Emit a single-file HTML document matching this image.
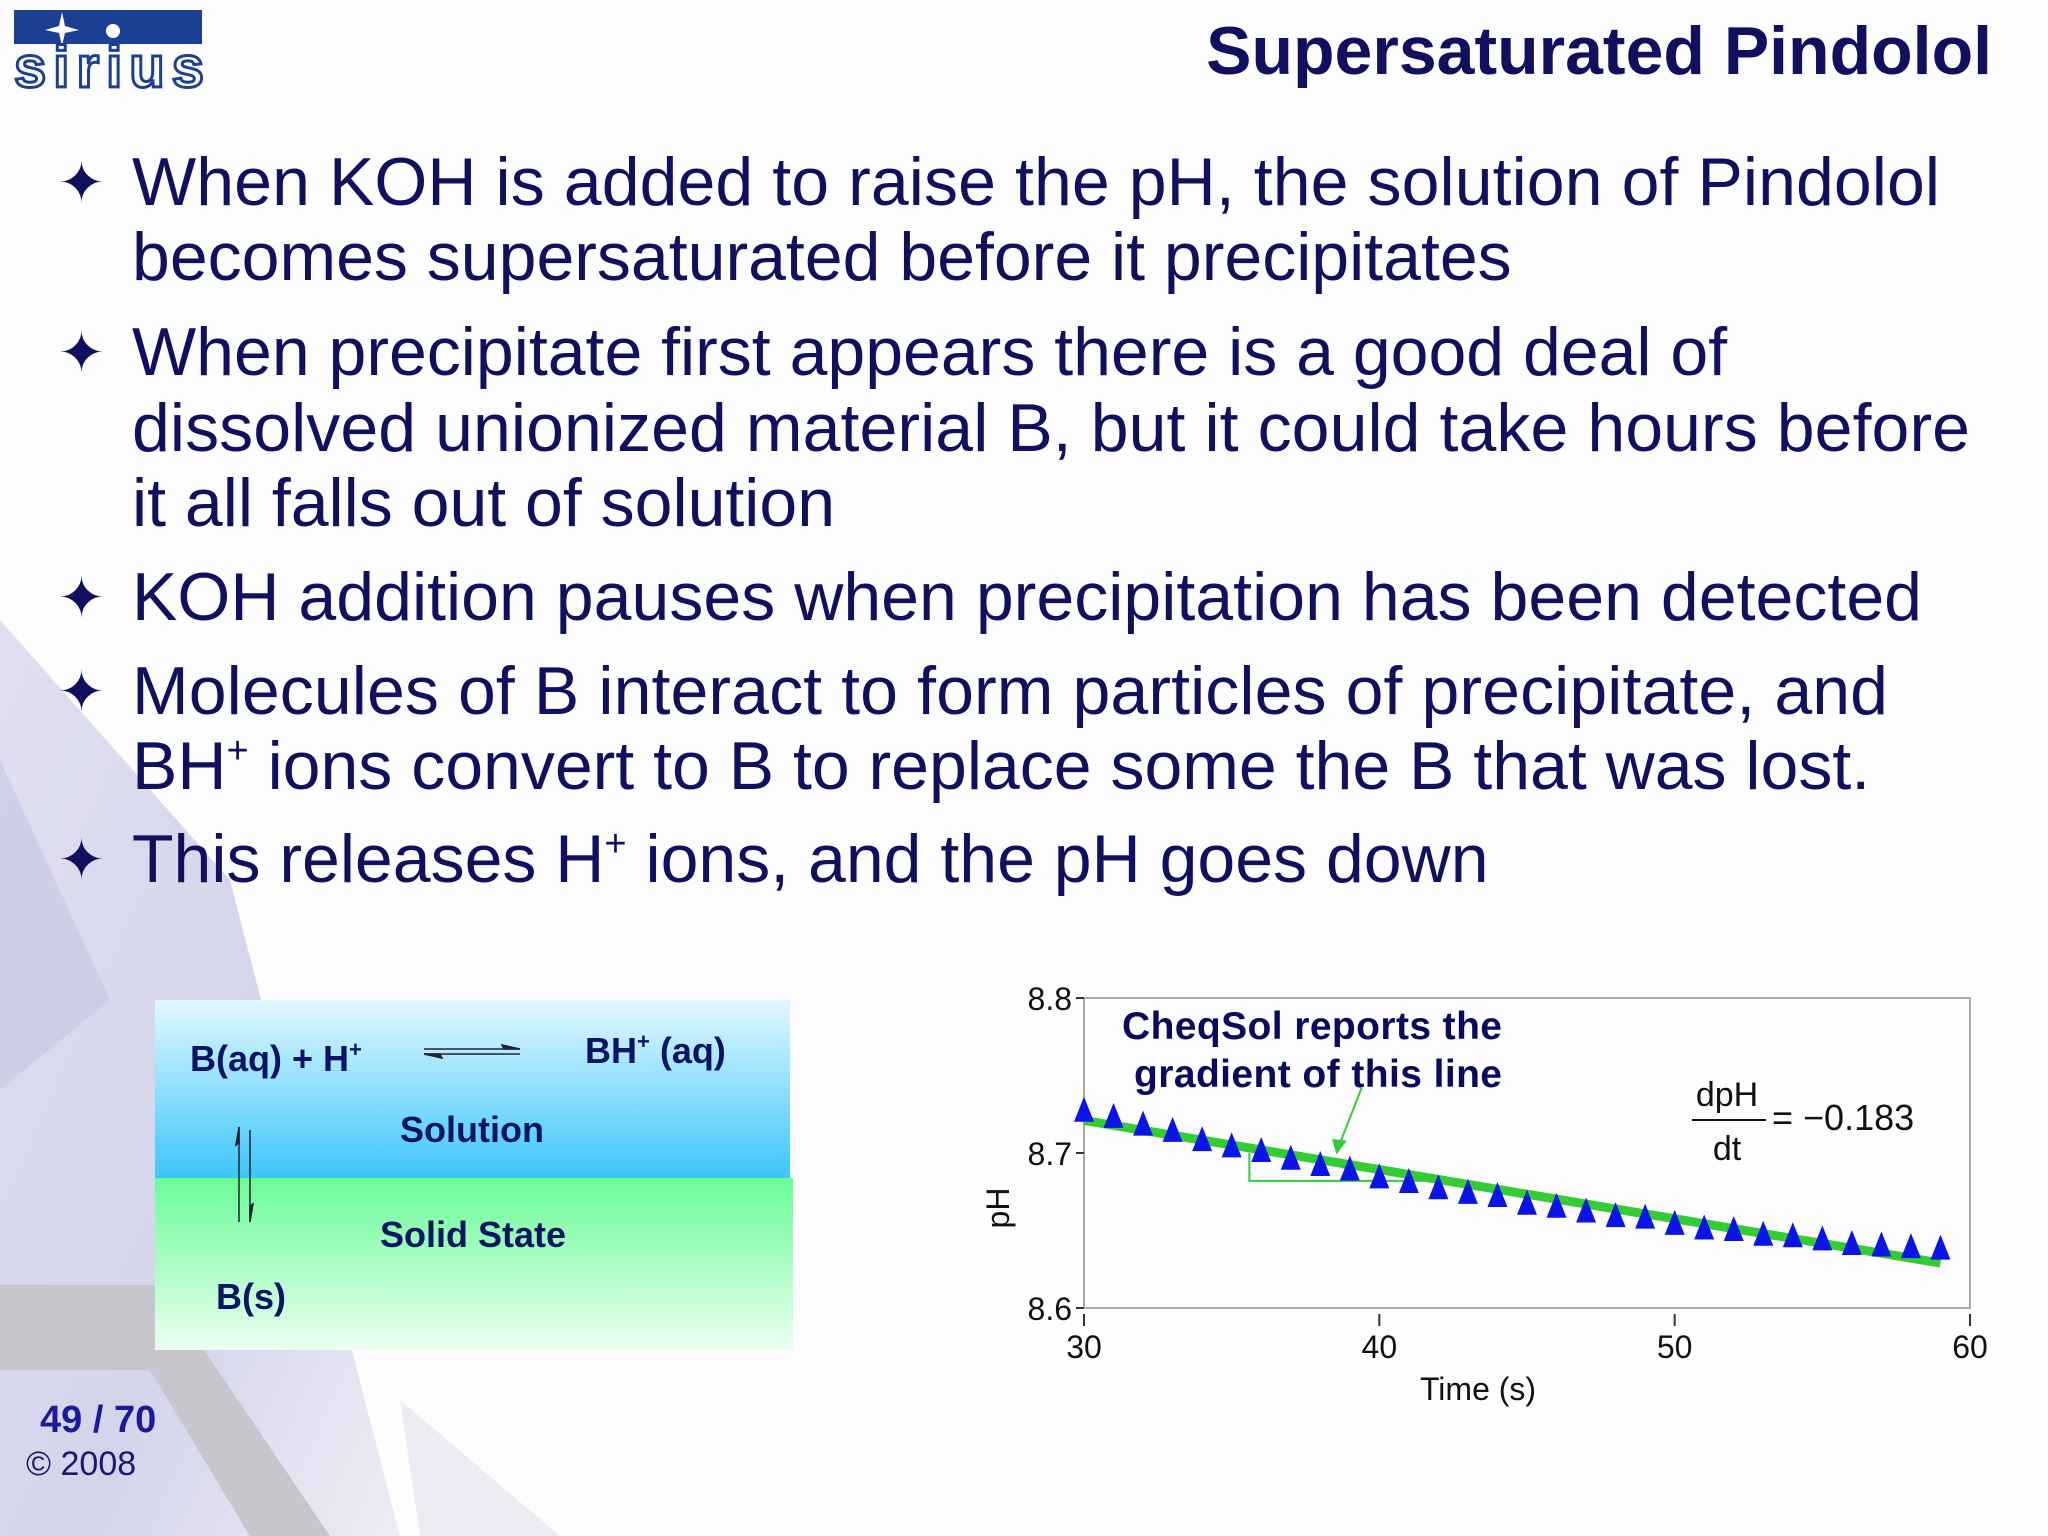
<!DOCTYPE html>
<html><head><meta charset="utf-8"><style>
html,body{margin:0;padding:0;background:#fff;}
svg{display:block;font-family:"Liberation Sans",sans-serif;}
</style></head><body>
<svg width="2048" height="1536" viewBox="0 0 2048 1536">
<defs>
<linearGradient id="lav" x1="0" y1="0" x2="1" y2="1"><stop offset="0" stop-color="#d6d6ec"/><stop offset="0.6" stop-color="#c6c6e4"/><stop offset="1" stop-color="#e8e8f4"/></linearGradient>
<linearGradient id="sol" x1="0" y1="0" x2="0" y2="1"><stop offset="0" stop-color="#e2f8ff"/><stop offset="1" stop-color="#3cc6fa"/></linearGradient>
<linearGradient id="solid" x1="0" y1="0" x2="0" y2="1"><stop offset="0" stop-color="#6cfb98"/><stop offset="1" stop-color="#eafff0"/></linearGradient>
</defs>
<g>
<rect width="2048" height="1536" fill="#fdfdfe"/>
<polygon points="0,620 230,880 400,1536 0,1536" fill="url(#lav)" opacity="0.75"/>
<polygon points="0,760 110,1000 0,1090" fill="#c4c4e2" opacity="0.6"/>
<polygon points="0,1285 160,1285 330,1536 250,1536 150,1370 0,1370" fill="#c6c6cc"/>
<polygon points="400,1400 560,1536 420,1536" fill="#ececf4"/>
</g>
<g>
<rect x="14" y="10" width="188" height="34" fill="#1a3f93"/>
<path d="M62,12 L65,26 L79,30 L65,33 L62,46 L59,33 L45,30 L59,26Z" fill="#fff"/>
<circle cx="113" cy="31" r="7" fill="#fff"/>
<text x="108" y="87" font-size="58" font-weight="bold" text-anchor="middle" fill="#fff" stroke="#1a3f93" stroke-width="3" letter-spacing="-2" textLength="188">sirius</text>
</g>
<text x="1992" y="74" font-size="68" font-weight="bold" fill="#10105e" text-anchor="end">Supersaturated Pindolol</text>
<g font-size="68" fill="#10105e">
<g fill="#10105e">
<text x="58" y="202" font-size="56">✦</text>
<text x="58" y="372" font-size="56">✦</text>
<text x="58" y="617" font-size="56">✦</text>
<text x="58" y="711" font-size="56">✦</text>
<text x="58" y="879" font-size="56">✦</text>
</g>
<text x="132" y="205" textLength="1808">When KOH is added to raise the pH, the solution of Pindolol</text>
<text x="132" y="280">becomes supersaturated before it precipitates</text>
<text x="132" y="375">When precipitate first appears there is a good deal of</text>
<text x="132" y="451" textLength="1838">dissolved unionized material B, but it could take hours before</text>
<text x="132" y="526">it all falls out of solution</text>
<text x="132" y="620" textLength="1790">KOH addition pauses when precipitation has been detected</text>
<text x="132" y="714" textLength="1756">Molecules of B interact to form particles of precipitate, and</text>
<text x="132" y="789">BH<tspan font-size="38" dy="-26">+</tspan><tspan dy="26"> ions convert to B to replace some the B that was lost.</tspan></text>
<text x="132" y="882">This releases H<tspan font-size="38" dy="-26">+</tspan><tspan dy="26"> ions, and the pH goes down</tspan></text>
</g>
<g>
<rect x="155" y="1000" width="635" height="178" fill="url(#sol)"/>
<rect x="155" y="1178" width="638" height="172" fill="url(#solid)"/>
<g font-weight="bold" fill="#0a1464" font-size="36">
<text x="190" y="1071">B(aq) + H<tspan font-size="22" dy="-14">+</tspan></text>
<text x="585" y="1063">BH<tspan font-size="22" dy="-14">+</tspan><tspan dy="14"> (aq)</tspan></text>
<text x="400" y="1142">Solution</text>
<text x="380" y="1247">Solid State</text>
<text x="216" y="1309">B(s)</text>
</g>
<g stroke="#223" stroke-width="1.5" fill="#223">
<line x1="424" y1="1049" x2="520" y2="1049"/><path d="M520,1049 L502,1045 L504,1049Z"/>
<line x1="424" y1="1054" x2="520" y2="1054"/><path d="M424,1054 L442,1058 L440,1054Z"/>
<line x1="239" y1="1127" x2="239" y2="1222"/><path d="M239,1127 L236,1145 L239,1143Z"/>
<line x1="250" y1="1130" x2="250" y2="1222"/><path d="M250,1222 L253,1204 L250,1206Z"/>
</g>
</g>
<g id="chart"></g>
<text x="40" y="1432" font-size="38" font-weight="bold" fill="#1b1b9a">49 / 70</text>
<text x="26" y="1475" font-size="34" fill="#1a1a70">© 2008</text>
</svg>
<script>
const times=[30,31,32,33,34,35,36,37,38,39,40,41,42,43,44,45,46,47,48,49,50,51,52,53,54,55,56,57,58,59];
const phValues=[8.726,8.722,8.717,8.713,8.707,8.703,8.700,8.695,8.691,8.688,8.683,8.680,8.676,8.673,8.671,8.666,8.664,8.661,8.658,8.657,8.653,8.650,8.649,8.646,8.645,8.643,8.640,8.639,8.638,8.637];
const fitLine=[[30,8.721],[59,8.629]];
const xTicks=[30,40,50,60];
const yTicks=[8.6,8.7,8.8];
const yTickLabels=["8.6","8.7","8.8"];
const NS="http://www.w3.org/2000/svg";
const L=1084,R=1970,T=998,B=1308;
const sx=t=>L+(t-30)/30*(R-L);
const sy=v=>B-(v-8.6)/0.2*(B-T);
const g=document.getElementById('chart');
function mk(tag,attrs,parent){const e=document.createElementNS(NS,tag);for(const k in attrs)e.setAttribute(k,attrs[k]);(parent||g).appendChild(e);return e;}
const frame=mk('rect',{x:L,y:T,width:R-L,height:B-T,fill:'#fdfdff',stroke:'#aaa','stroke-width':2});


yTicks.forEach((v,i)=>{
 const tk=mk('line',{x1:L-8,x2:L,y1:sy(v),y2:sy(v),stroke:'#333','stroke-width':2});
 
 
 const t=mk('text',{x:L-12,y:sy(v)+12,'font-size':32,'text-anchor':'end',fill:'#111'});
 t.textContent=yTickLabels[i];
 
 
});
xTicks.forEach(v=>{
 const tk=mk('line',{x1:sx(v),x2:sx(v),y1:B+6,y2:B+18,stroke:'#333','stroke-width':2});
 
 
 const t=mk('text',{x:sx(v),y:B+50,'font-size':32,'text-anchor':'middle',fill:'#111'});
 t.textContent=String(v);
 
 
});
const xt=mk('text',{x:1478,y:1400,'font-size':32,'text-anchor':'middle',fill:'#111'});
xt.textContent='Time (s)';


const yt=mk('text',{x:0,y:0,'font-size':32,'text-anchor':'middle',fill:'#111',transform:'translate(1009,1208) rotate(-90)'});
yt.textContent='pH';


const fl=mk('line',{x1:sx(fitLine[0][0]),y1:sy(fitLine[0][1]),x2:sx(fitLine[1][0]),y2:sy(fitLine[1][1]),stroke:'#33cc33','stroke-width':9});


const step=mk('polyline',{points:`${sx(35.6)},${sy(8.700)} ${sx(35.6)},${sy(8.682)} ${sx(41.9)},${sy(8.682)}`,fill:'none',stroke:'#33cc33','stroke-width':2});


times.forEach((t,i)=>{
 const x=sx(t),y=sy(phValues[i]);
 const p=mk('polygon',{points:`${x},${y-16} ${x-10},${y+9} ${x+10},${y+9}`,fill:'#0a14e6'});
 
 
});
const ar=mk('line',{x1:sx(39.4),y1:sy(8.742),x2:sx(38.6),y2:sy(8.703),stroke:'#33cc33','stroke-width':2});


const ah=mk('polygon',{points:`${sx(38.55)},${sy(8.699)} ${sx(38.4)},${sy(8.709)} ${sx(38.9)},${sy(8.708)}`,fill:'#33cc33'});


const a1=mk('text',{x:1122,y:1039,'font-size':39,'font-weight':'bold',fill:'#0a0a5e',textLength:380});
a1.textContent='CheqSol reports the';


const a2=mk('text',{x:1134,y:1087,'font-size':39,'font-weight':'bold',fill:'#0a0a5e',textLength:368});
a2.textContent='gradient of this line';


const f1=mk('text',{x:1727,y:1106,'font-size':34,'text-anchor':'middle',fill:'#111'});
f1.textContent='dpH';


const fb=mk('line',{x1:1692,x2:1766,y1:1120,y2:1120,stroke:'#111','stroke-width':2});


const f2=mk('text',{x:1727,y:1160,'font-size':34,'text-anchor':'middle',fill:'#111'});
f2.textContent='dt';


const f3=mk('text',{x:1772,y:1130,'font-size':36,fill:'#111'});
f3.textContent='= −0.183';


</script>
</body></html>
